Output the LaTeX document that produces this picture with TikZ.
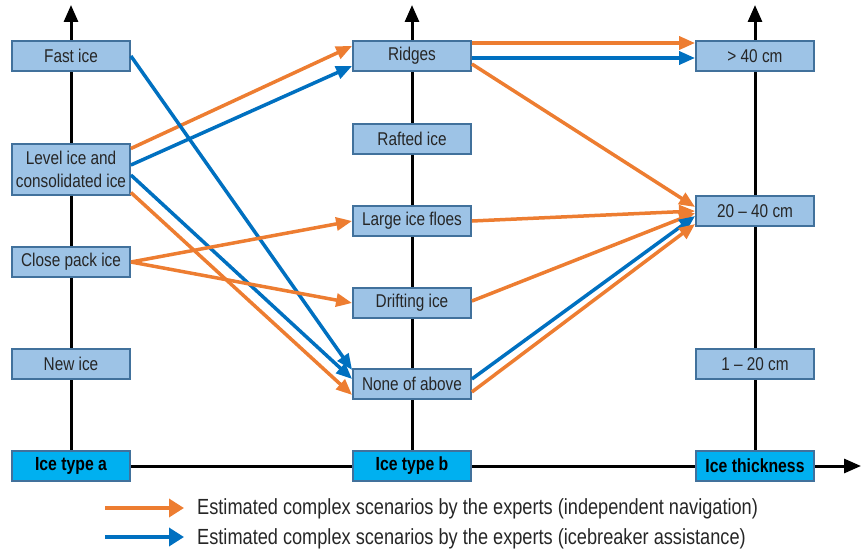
\documentclass[tikz,border=0pt]{standalone}
\usepackage{fontspec}
\setmainfont{Liberation Sans}[FakeStretch=0.83]
\usetikzlibrary{arrows.meta}
\definecolor{boxfill}{HTML}{9DC3E6}
\definecolor{boxdraw}{HTML}{41719C}
\definecolor{headfill}{HTML}{00B0F0}
\definecolor{orng}{HTML}{ED7D31}
\definecolor{blu}{HTML}{0070C0}
\begin{document}
\begin{tikzpicture}[x=1pt,y=-1pt,
  catbox/.style={draw=boxdraw, fill=boxfill, line width=1.8pt, minimum width=118pt,
    minimum height=30pt, inner sep=0pt, align=center, text=black!85,
    font=\fontsize{18.5}{22.5}\selectfont},
  headbox/.style={catbox, fill=headfill, text=black, font=\bfseries\fontsize{19}{22}\selectfont},
  axisline/.style={line width=3pt, black},
  axisarr/.style={axisline, -{Triangle[length=17pt,width=14pt]}},
  oarr/.style={draw=orng, line width=3.5pt, -{Triangle[length=16pt,width=13pt]}},
  barr/.style={oarr, draw=blu},
  legtext/.style={anchor=west, inner sep=0pt, text=black!85, font=\fontsize{21.9}{24}\selectfont}
]
\useasboundingbox (0,0) rectangle (861,551);
% axes
\coordinate (ca) at (71,466);
\coordinate (cb) at (412,466);
\coordinate (cc) at (755,466);
\coordinate (ta) at (71,5);
\coordinate (tb) at (412,5);
\coordinate (tc) at (755,5);
\coordinate (xe) at (861,466);
\draw[axisarr] (ca) -- (ta);
\draw[axisarr] (cb) -- (tb);
\draw[axisarr] (cc) -- (tc);
\draw[axisarr] (ca) -- (xe);
% headers
\node[headbox] (ha) at (ca) {Ice type a};
\node[headbox] (hb) at (cb) {Ice type b};
\node[headbox] (hc) at (cc) {Ice thickness};
% column a
\node[catbox] (fast) at (71,56) {Fast ice};
\node[catbox, minimum height=51pt] (level) at (71,169.5) {Level ice and\\consolidated ice};
\node[catbox] (close) at (71,262) {Close pack ice};
\node[catbox] (new) at (71,364) {New ice};
% column b
\node[catbox] (ridges) at (412,56) {Ridges};
\node[catbox] (rafted) at (412,139) {Rafted ice};
\node[catbox] (large) at (412,221) {Large ice floes};
\node[catbox] (drift) at (412,303) {Drifting ice};
\node[catbox] (none) at (412,384) {None of above};
% column c
\node[catbox] (g40) at (755,56) {> 40 cm};
\node[catbox] (m2040) at (755,211) {20 -- 40 cm};
\node[catbox] (s120) at (755,364) {1 -- 20 cm};
% connectors a -> b
\draw[oarr] ([yshift=21pt]level.east) -- ([yshift=10pt]ridges.west);
\draw[barr] ([yshift=4.5pt]level.east) -- ([yshift=-10pt]ridges.west);
\draw[barr] (fast.east) -- ([yshift=14pt]none.west);
\draw[barr] ([yshift=-5.5pt]level.east) -- ([yshift=5pt]none.west);
\draw[oarr] ([yshift=-23pt]level.east) -- ([yshift=-11pt]none.west);
\draw[oarr] (close.east) -- (large.west);
\draw[oarr] (close.east) -- (drift.west);
% connectors b -> c
\draw[oarr] ([yshift=13pt]ridges.east) -- ([yshift=13pt]g40.west);
\draw[barr] ([yshift=-2pt]ridges.east) -- ([yshift=-2pt]g40.west);
\draw[oarr] ([yshift=-8pt]ridges.east) -- ([yshift=4pt]m2040.west);
\draw[oarr] (large.east) -- (m2040.west);
\draw[oarr] ([yshift=2pt]drift.east) -- ([yshift=-2pt]m2040.west);
\draw[barr] ([yshift=5pt]none.east) -- ([yshift=-5pt]m2040.west);
\draw[oarr] ([yshift=-8pt]none.east) -- ([yshift=-13pt]m2040.west);
% legend
\coordinate (lo1) at (105,508);
\coordinate (lo2) at (184,508);
\coordinate (lb1) at (105,537);
\coordinate (lb2) at (184,537);
\draw[oarr, -{Triangle[length=15pt,width=18pt]}] (lo1) -- (lo2);
\draw[barr, -{Triangle[length=15pt,width=18pt]}] (lb1) -- (lb2);
\node[legtext] (lto) at (197,509) {Estimated complex scenarios by the experts (independent navigation)};
\node[legtext] (ltb) at (197,539) {Estimated complex scenarios by the experts (icebreaker assistance)};
\end{tikzpicture}
\end{document}
